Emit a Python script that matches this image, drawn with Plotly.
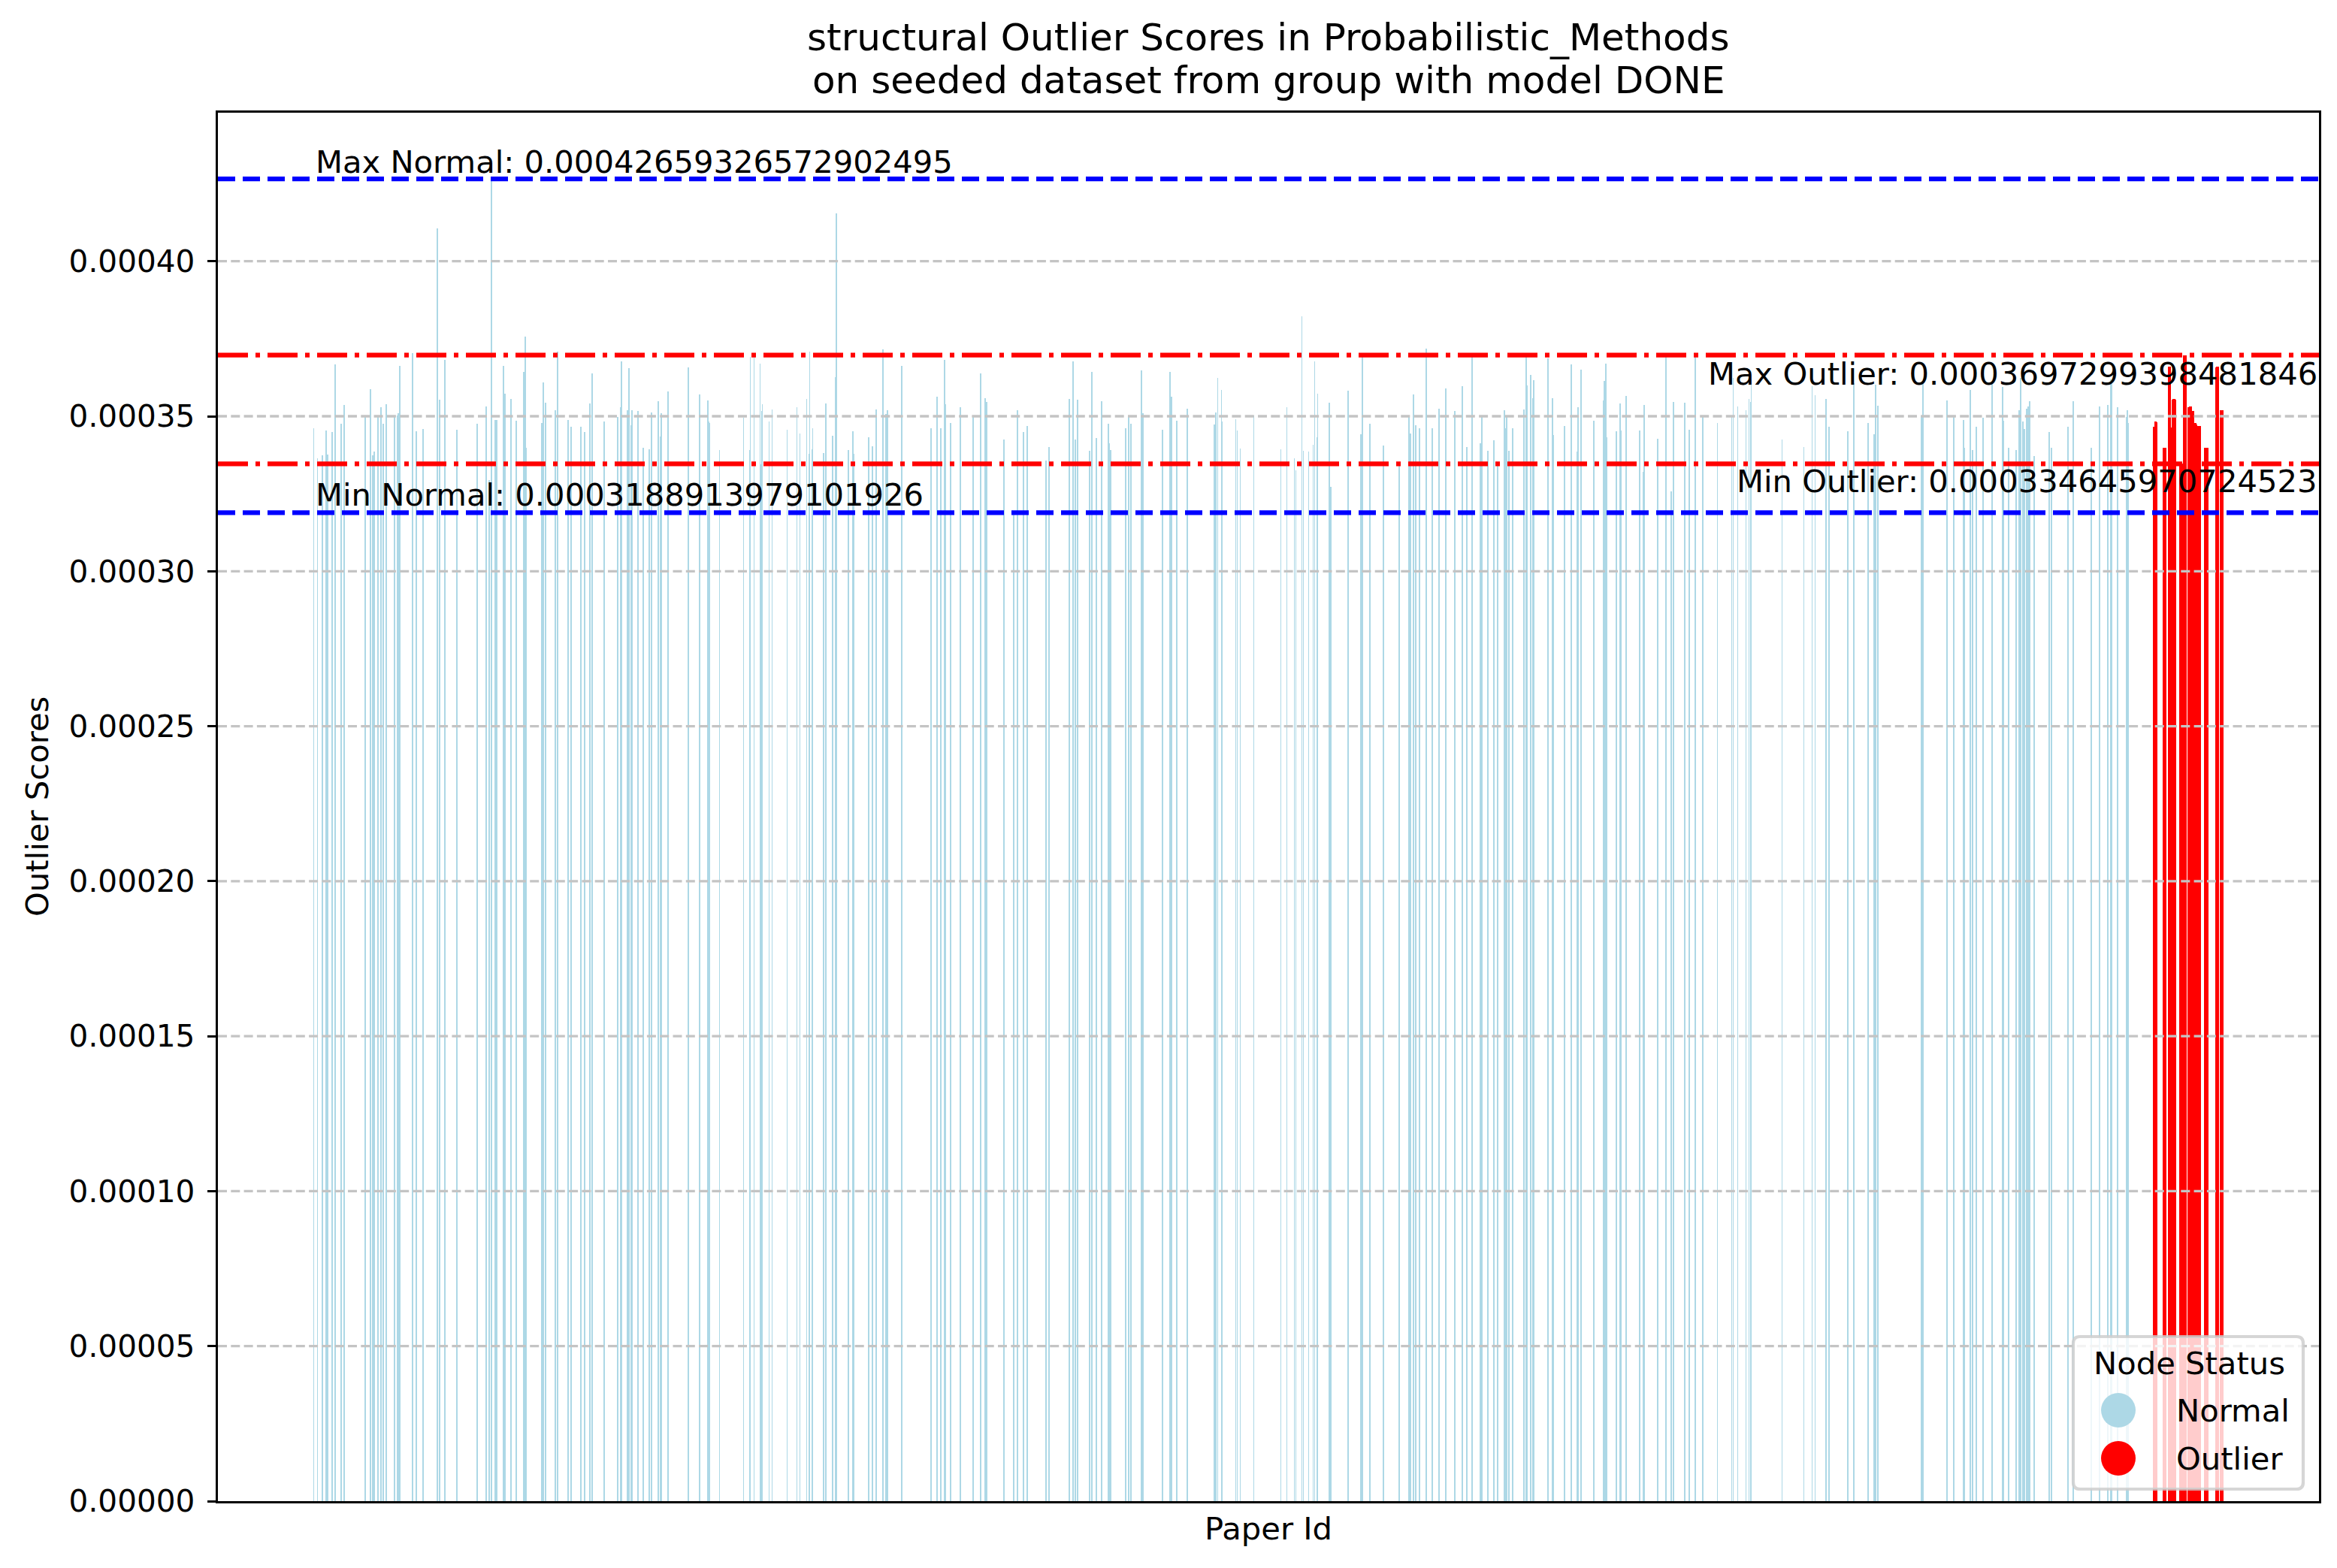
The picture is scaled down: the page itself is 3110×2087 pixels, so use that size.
import plotly.graph_objects as go

# ---------------- data ----------------
normal_ids = [
    17, 22, 28, 33, 35, 41, 45, 53, 57, 85, 92, 95, 97, 102, 106, 109, 113, 124, 128, 129,
    131, 148, 153, 162, 181, 184, 191, 207, 234, 246, 250, 253, 258, 260, 269, 271, 279, 286,
    296, 298, 299, 320, 322, 325, 338, 341, 355, 359, 372, 377, 384, 387, 403, 421, 425, 426,
    434, 436, 439, 440, 448, 455, 463, 466, 475, 478, 479, 488, 515,
    530, 541, 542, 543, 556, 588, 596, 597, 602, 610, 611, 612, 613, 622, 626, 646, 659, 663,
    672, 675, 676, 679, 680, 694, 697, 706, 710, 711, 727, 733, 734, 754, 759, 764, 773, 777,
    779, 798, 837, 845, 850, 855, 856, 863, 876, 893, 903, 909, 911, 934, 947, 952, 960, 965,
    990, 994, 1021, 1026, 1029, 1032,
    1048, 1051, 1057, 1064, 1073, 1074, 1075, 1076, 1096, 1100, 1103, 1117, 1119, 1145, 1155,
    1157, 1164, 1178, 1214, 1216, 1218, 1223, 1224, 1242, 1244, 1248, 1266, 1302, 1310, 1320,
    1322, 1330, 1332, 1339, 1345, 1347, 1350, 1351, 1366, 1368, 1391, 1408, 1410, 1420, 1438,
    1459, 1472, 1474, 1478, 1481, 1486, 1495, 1503, 1512, 1521, 1533, 1543, 1549, 1556,
    1567, 1569, 1577, 1585, 1590, 1599, 1600, 1602, 1605, 1610, 1625, 1628, 1629, 1634, 1637,
    1638, 1657, 1663, 1664, 1679, 1688, 1696, 1697, 1701, 1718, 1731, 1732, 1734, 1735, 1748,
    1753, 1754, 1761, 1779, 1784, 1785, 1803, 1814, 1821, 1824, 1839, 1845, 1853, 1863, 1882,
    1901, 1903, 1909, 1920, 1924, 1926, 1927, 1968, 1997, 2008, 2012, 2026, 2030, 2055, 2063,
    2082, 2090, 2092, 2095, 2153, 2155, 2187, 2196, 2209, 2210, 2218, 2221, 2226, 2235, 2247,
    2261, 2262, 2269, 2279, 2283, 2285, 2288, 2290, 2293, 2294, 2295, 2297, 2303, 2323, 2326,
    2348, 2355, 2379, 2390, 2401, 2405, 2406, 2414, 2426, 2427, 2428,
]
normal_scores = [
    3.4601e-4, 3.3632e-4, 3.3729e-4, 3.4536e-4, 3.3753e-4, 3.4480e-4, 3.6683e-4, 3.4754e-4,
    3.5375e-4, 3.4996e-4, 3.5884e-4, 3.3729e-4, 3.3850e-4, 3.5012e-4, 3.5279e-4, 3.4754e-4,
    3.5400e-4, 3.5036e-4, 3.5030e-4, 3.5085e-4, 3.6635e-4, 3.7046e-4, 3.4504e-4, 3.4576e-4,
    4.1066e-4, 3.5545e-4, 3.6828e-4, 3.4552e-4, 3.4750e-4, 3.5327e-4, 3.2930e-4,
    4.2659326572902495e-4, 3.4891e-4, 3.4875e-4, 3.6630e-4, 3.5739e-4, 3.5569e-4, 3.4843e-4,
    3.6441e-4, 3.7579e-4, 3.3971e-4, 3.4778e-4, 3.6102e-4, 3.5448e-4, 3.5206e-4, 3.7095e-4,
    3.4867e-4, 3.4657e-4, 3.4660e-4, 3.4480e-4, 3.5424e-4, 3.6392e-4, 3.4819e-4, 3.4964e-4,
    3.5303e-4, 3.6780e-4, 3.5206e-4, 3.6562e-4, 3.4698e-4, 3.5206e-4, 3.5158e-4, 3.3971e-4,
    3.3923e-4, 3.5133e-4, 3.5497e-4, 3.4334e-4, 3.5109e-4, 3.5811e-4, 3.6586e-4,
    3.5714e-4, 3.5521e-4, 3.4819e-4, 3.4778e-4, 3.3898e-4, 3.4940e-4, 3.3898e-4, 3.6925e-4,
    3.6920e-4, 3.6699e-4, 3.3447e-4, 3.5158e-4, 3.5400e-4, 3.4819e-4, 3.5230e-4, 3.4552e-4,
    3.5279e-4, 3.4431e-4, 3.5569e-4, 3.3777e-4, 3.7095e-4, 3.3923e-4, 3.4601e-4, 3.3802e-4,
    3.5424e-4, 3.4359e-4, 3.6271e-4, 4.1550e-4, 3.3898e-4, 3.4504e-4, 3.3777e-4, 3.4310e-4,
    3.4020e-4, 3.5230e-4, 3.7167e-4, 3.5061e-4, 3.5206e-4, 3.6635e-4, 3.4601e-4, 3.5642e-4,
    3.4601e-4, 3.6828e-4, 3.5400e-4, 3.4770e-4, 3.5279e-4, 3.4964e-4, 3.6392e-4, 3.5593e-4,
    3.5472e-4, 3.4237e-4, 3.188913979101926e-4, 3.5206e-4, 3.4480e-4, 3.4673e-4, 3.3560e-4,
    3.3995e-4, 3.5569e-4, 3.6780e-4, 3.4237e-4, 3.5545e-4,
    3.3874e-4, 3.6441e-4, 3.4286e-4, 3.5497e-4, 3.4746e-4, 3.4116e-4, 3.3850e-4, 3.3898e-4,
    3.4601e-4, 3.5036e-4, 3.4746e-4, 3.6489e-4, 3.5085e-4, 3.4552e-4, 3.6441e-4, 3.5642e-4,
    3.4843e-4, 3.5254e-4, 3.4722e-4, 3.5133e-4, 3.6247e-4, 3.5860e-4, 3.4819e-4, 3.4915e-4,
    3.4528e-4, 3.3947e-4, 3.5036e-4, 3.3923e-4, 3.5303e-4, 3.3632e-4, 3.3245e-4, 3.8233e-4,
    3.3874e-4, 3.3850e-4, 3.4068e-4, 3.6780e-4, 3.4310e-4, 3.5739e-4, 3.5448e-4, 3.2712e-4,
    3.5836e-4, 3.4407e-4, 3.7046e-4, 3.4746e-4, 3.4044e-4, 3.3463e-4, 3.4988e-4, 3.4431e-4,
    3.5714e-4, 3.4698e-4, 3.4601e-4, 3.7191e-4, 3.4601e-4, 3.5254e-4, 3.5908e-4, 3.5158e-4,
    3.5981e-4, 3.3995e-4, 3.7046e-4,
    3.4116e-4, 3.5012e-4, 3.3874e-4, 3.4213e-4, 3.3390e-4, 3.5206e-4, 3.4601e-4, 3.4988e-4,
    3.3874e-4, 3.4601e-4, 3.5230e-4, 3.7046e-4, 3.6005e-4, 3.6344e-4, 3.5593e-4, 3.6175e-4,
    3.6877e-4, 3.5593e-4, 3.4383e-4, 3.4673e-4, 3.6683e-4, 3.3850e-4, 3.5303e-4, 3.6513e-4,
    3.4843e-4, 3.5521e-4, 3.6150e-4, 3.6707e-4, 3.4310e-4, 3.4504e-4, 3.5424e-4, 3.4528e-4,
    3.5666e-4, 3.4528e-4, 3.3196e-4, 3.5375e-4, 3.4262e-4, 3.7022e-4, 3.2567e-4, 3.5472e-4,
    3.5448e-4, 3.4552e-4, 3.6949e-4, 3.4964e-4, 3.4794e-4, 3.5036e-4, 3.6247e-4, 3.5327e-4,
    3.5182e-4, 3.5569e-4, 3.5472e-4, 3.6199e-4, 3.4237e-4, 3.3995e-4, 3.5981e-4, 3.5690e-4,
    3.5569e-4, 3.4649e-4, 3.4504e-4, 3.6078e-4,
    3.4770e-4, 3.4407e-4, 3.6029e-4, 3.5351e-4, 3.5036e-4, 3.6150e-4, 3.5521e-4, 3.5012e-4,
    3.4891e-4, 3.3971e-4, 3.5860e-4, 3.3898e-4, 3.4649e-4, 3.4940e-4, 3.6102e-4, 3.5957e-4,
    3.4843e-4, 3.3971e-4, 3.3898e-4, 3.5182e-4, 3.6247e-4, 3.4819e-4, 3.4576e-4, 3.5254e-4,
    3.4843e-4, 3.5327e-4, 3.5497e-4, 3.3705e-4, 3.4480e-4, 3.3971e-4, 3.4649e-4, 3.5497e-4,
    3.3971e-4, 3.5327e-4, 3.5375e-4, 3.6199e-4, 3.6150e-4, 3.5279e-4, 3.4964e-4, 3.5206e-4,
    3.4794e-4,
]
outlier_ids = [
    2462, 2463, 2464, 2465, 2466, 2475, 2476, 2477, 2478, 2482, 2483, 2484, 2485, 2486,
    2487, 2488, 2489, 2490, 2491, 2497, 2498, 2499, 2500, 2502, 2503, 2504, 2505,
    2508, 2509, 2510, 2511, 2512, 2513, 2514, 2515, 2516, 2517, 2518, 2519,
    2520, 2521, 2522, 2523, 2524, 2530, 2531, 2532, 2533, 2534,
    2545, 2546, 2547, 2548, 2551, 2552, 2553, 2554,
]
outlier_scores = [
    3.4649e-4, 3.4655e-4, 3.4819e-4, 3.4822e-4, 3.4815e-4, 3.3971e-4, 3.3975e-4, 3.3968e-4,
    3.3972e-4, 3.6600e-4, 3.6605e-4, 3.6598e-4, 3.4625e-4, 3.4630e-4,
    3.5545e-4, 3.5550e-4, 3.5541e-4, 3.5548e-4, 3.5543e-4,
    3.3470e-4, 3.34645970724523e-4, 3.3468e-4, 3.3472e-4,
    3.6960e-4, 3.697299398481846e-4, 3.6965e-4, 3.6968e-4,
    3.5303e-4, 3.5300e-4, 3.5306e-4, 3.5301e-4, 3.5304e-4, 3.5158e-4, 3.5155e-4, 3.5160e-4,
    3.4786e-4, 3.4790e-4, 3.4783e-4, 3.4738e-4,
    3.4673e-4, 3.4670e-4, 3.4676e-4, 3.4671e-4, 3.4675e-4,
    3.3971e-4, 3.3968e-4, 3.3974e-4, 3.3970e-4, 3.3973e-4,
    3.6586e-4, 3.6590e-4, 3.6583e-4, 3.6588e-4, 3.5182e-4, 3.5185e-4, 3.5179e-4, 3.5183e-4,
]
y_tick_vals = [0.0, 0.00005, 0.00010, 0.00015, 0.00020, 0.00025, 0.00030, 0.00035, 0.00040]

title_lines = ["structural Outlier Scores in Probabilistic_Methods",
               "on seeded dataset from group with model DONE"]
x_label = "Paper Id"
y_label = "Outlier Scores"
legend_title = "Node Status"
legend_labels = ["Normal", "Outlier"]

# ---------------- styling / geometry ----------------
W, H = 3110, 2087
ML, MR, MT, MB = 290, 24, 150, 89
PW, PH = W - ML - MR, H - MT - MB
FONT = "DejaVu Sans"
FS = 41.7
TICK_FS = 40.6
TFS = 50
NORMAL_C = "#ADD8E6"
OUTLIER_C = "#FF0000"


def px_x(p):
    return (p - ML) / PW


def px_y(p):
    return (H - MB - p) / PH


max_normal, min_normal = max(normal_scores), min(normal_scores)
max_outlier, min_outlier = max(outlier_scores), min(outlier_scores)

all_ids = normal_ids + outlier_ids
lo, hi = min(all_ids) - 0.5, max(all_ids) + 0.5
span = hi - lo
x_range = [lo - 0.05 * span, hi + 0.05 * span]
y_top = max(normal_scores + outlier_scores) * 1.05

fig = go.Figure()
fig.add_trace(go.Bar(x=normal_ids, y=normal_scores, width=0.8, name=legend_labels[0],
                     marker=dict(color=NORMAL_C, line=dict(width=0)), showlegend=False))
fig.add_trace(go.Bar(x=outlier_ids, y=outlier_scores, width=1.0, name=legend_labels[1],
                     marker=dict(color=OUTLIER_C, line=dict(width=0)), showlegend=False))

shapes = []
# grid lines (drawn above the bars, like matplotlib)
for v in y_tick_vals[1:]:
    shapes.append(dict(type="line", xref="paper", x0=0, x1=1, yref="y", y0=v, y1=v,
                       line=dict(color="#c4c4c4", width=3.3, dash="12px,5.3px"), layer="above"))
# reference lines
for v, col, dash in [(max_normal, "#0000FF", "23px,10px"), (min_normal, "#0000FF", "23px,10px"),
                     (max_outlier, "#FF0000", "40px,10px,6px,10px"),
                     (min_outlier, "#FF0000", "40px,10px,6px,10px")]:
    shapes.append(dict(type="line", xref="paper", x0=0, x1=1, yref="y", y0=v, y1=v,
                       line=dict(color=col, width=6.25, dash=dash), layer="above"))

# legend box (manual, matplotlib-like)
bx0, bx1, by0, by1 = px_x(2759), px_x(3065), px_y(1982), px_y(1779)
rx, ry = 9 / PW, 9 / PH
path = (f"M{bx0+rx},{by0} L{bx1-rx},{by0} Q{bx1},{by0} {bx1},{by0+ry} L{bx1},{by1-ry} "
        f"Q{bx1},{by1} {bx1-rx},{by1} L{bx0+rx},{by1} Q{bx0},{by1} {bx0},{by1-ry} "
        f"L{bx0},{by0+ry} Q{bx0},{by0} {bx0+rx},{by0} Z")
shapes.append(dict(type="path", xref="paper", yref="paper", path=path,
                   fillcolor="rgba(255,255,255,0.8)",
                   line=dict(color="rgba(204,204,204,0.8)", width=4.2), layer="above"))
r = 23
for cy, col in [(1877, NORMAL_C), (1941, OUTLIER_C)]:
    shapes.append(dict(type="circle", xref="paper", yref="paper",
                       x0=px_x(2819 - r), x1=px_x(2819 + r), y0=px_y(cy + r), y1=px_y(cy - r),
                       fillcolor=col, line=dict(width=0), layer="above"))

txt = dict(family=FONT, size=FS, color="black")
annotations = [
    dict(text=title_lines[0], xref="paper", yref="paper", x=0.5, y=1, xanchor="center",
         yanchor="bottom", yshift=69, showarrow=False, font=dict(family=FONT, size=TFS, color="black")),
    dict(text=title_lines[1], xref="paper", yref="paper", x=0.5, y=1, xanchor="center",
         yanchor="bottom", yshift=12, showarrow=False, font=dict(family=FONT, size=TFS, color="black")),
    dict(text=f"Max Normal: {max_normal}", xref="x", yref="y", x=min(all_ids), y=max_normal,
         xanchor="left", yanchor="bottom", yshift=-4, showarrow=False, font=txt),
    dict(text=f"Min Normal: {min_normal}", xref="x", yref="y", x=min(all_ids), y=min_normal,
         xanchor="left", yanchor="bottom", yshift=-3, showarrow=False, font=txt),
    dict(text=f"Max Outlier: {max_outlier}", xref="paper", yref="y", x=1, y=max_outlier,
         xanchor="right", yanchor="top", yshift=2, showarrow=False, font=txt),
    dict(text=f"Min Outlier: {min_outlier}", xref="paper", yref="y", x=1, y=min_outlier,
         xanchor="right", yanchor="top", yshift=3, showarrow=False, font=txt),
    dict(text=x_label, xref="paper", yref="paper", x=0.5, y=0, xanchor="center", yanchor="top",
         yshift=-10, showarrow=False, font=txt),
    dict(text=y_label, xref="paper", yref="paper", x=px_x(49), y=0.5, xanchor="center",
         yanchor="middle", textangle=-90, showarrow=False, font=txt),
    dict(text=legend_title, xref="paper", yref="paper", x=px_x(2913), y=px_y(1814),
         xanchor="center", yanchor="middle", showarrow=False, font=txt),
    dict(text=legend_labels[0], xref="paper", yref="paper", x=px_x(2894), y=px_y(1877),
         xanchor="left", yanchor="middle", showarrow=False, font=txt),
    dict(text=legend_labels[1], xref="paper", yref="paper", x=px_x(2894), y=px_y(1941),
         xanchor="left", yanchor="middle", showarrow=False, font=txt),
]

fig.update_layout(
    width=W, height=H, autosize=False,
    margin=dict(l=ML, r=MR, t=MT, b=MB, pad=0),
    paper_bgcolor="white", plot_bgcolor="white",
    barmode="overlay", bargap=0, showlegend=False,
    font=dict(family=FONT, size=FS, color="black"),
    xaxis=dict(range=x_range, showticklabels=False, ticks="", showgrid=False, zeroline=False,
               showline=True, linecolor="black", linewidth=3.3, mirror=True),
    yaxis=dict(range=[0, y_top], tickvals=y_tick_vals, tickformat=".5f", ticks="outside",
               ticklen=11.3, tickwidth=3.3, tickcolor="black", ticklabelstandoff=8,
               tickfont=dict(family=FONT, size=TICK_FS, color="black"),
               showgrid=False, zeroline=False, showline=True, linecolor="black",
               linewidth=3.3, mirror=True),
    shapes=shapes,
    annotations=annotations,
)

fig.write_html("out.html")
